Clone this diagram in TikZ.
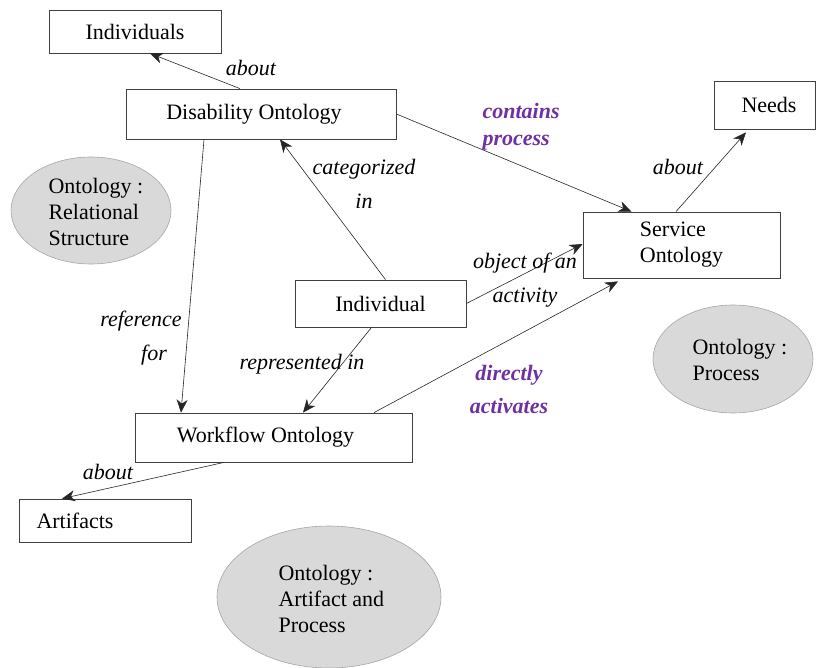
\documentclass[tikz,border=0pt]{standalone}
\usepackage{fontspec}
\setmainfont{Liberation Serif}
\usetikzlibrary{arrows.meta,shapes.geometric}
\definecolor{purp}{HTML}{7030A0}
\definecolor{ellfill}{HTML}{D9D9D9}
\definecolor{ellline}{HTML}{A6A6A6}
\begin{document}
\begin{tikzpicture}[x=1pt,y=-1pt,
  font=\fontsize{22}{26}\selectfont,
  box/.style={draw=black!75,line width=0.8pt,inner sep=0pt,rectangle},
  ell/.style={draw=ellline,fill=ellfill,line width=0.6pt,ellipse,inner sep=0pt},
  conn/.style={draw=black!85,line width=0.6pt,-{Stealth[length=13pt,width=11pt,inset=4pt]}},
  lab/.style={font=\fontsize{22}{34}\selectfont\itshape,align=center},
  plab/.style={font=\fontsize{22}{27}\selectfont\bfseries\itshape,text=purp,align=left}]
\useasboundingbox (0,0) rectangle (816,668);
% ellipses
\node[ell,minimum width=160pt,minimum height=107pt] (e1) at (91,210.5) {};
\node[align=left,anchor=west] (t1) at (45,212) {Ontology :\\Relational\\Structure};
\node[ell,minimum width=160pt,minimum height=108pt] (e2) at (733,359) {};
\node[align=left,anchor=west] (t2) at (689,360) {Ontology :\\Process};
\node[ell,minimum width=224pt,minimum height=142pt] (e3) at (329,597) {};
\node[align=left,anchor=west] (t3) at (275,599) {Ontology :\\Artifact and\\Process};
% boxes
\node[box,minimum width=172pt,minimum height=43pt] (indvs) at (135,31.5) {Individuals};
\node[box,minimum width=270pt,minimum height=50pt] (dis) at (261,114) {\hspace*{-14pt}Disability Ontology};
\node[box,minimum width=101pt,minimum height=48pt] (needs) at (765,105) {\hspace*{8pt}Needs};
\node[box,minimum width=197pt,minimum height=66pt,align=left] (svc) at (681.5,245) {Service\\Ontology};
\node[box,minimum width=171pt,minimum height=47pt] (indiv) at (380.5,303.5) {Individual};
\node[box,minimum width=277pt,minimum height=49pt] (wf) at (273.5,437.5) {\hspace*{-16pt}Workflow Ontology};
\node[box,minimum width=172pt,minimum height=43pt] (art) at (105,520.5) {\hspace*{-60pt}Artifacts};
% connectors
\draw[conn] ([xshift=-21pt]dis.north) -- ([xshift=15pt]indvs.south);
\node[lab] (l1) at (251,68) {about};
\draw[conn] (dis.east) -- ([xshift=-50pt]svc.north);
\node[plab,anchor=west] (l2) at (479,127) {contains\\process};
\draw[conn] ([xshift=5pt]indiv.north) -- ([xshift=19pt]dis.south);
\node[lab] (l3) at (364,184) {categorized\\in};
\draw[conn] ([xshift=-57pt]dis.south) -- ([xshift=-92.5pt]wf.north);
\node[lab] (l4) at (141,338) {reference\\\hspace*{26pt}for};
\draw[conn] ([xshift=-9pt]indiv.south) -- ([xshift=29.5pt]wf.north);
\node[lab] (l5) at (302,364) {represented in};
\draw[conn] (indiv.east) -- ([yshift=1pt]svc.west);
\node[lab] (l6) at (525,280) {object of an\\activity};
\draw[conn] ([xshift=100.5pt]wf.north) -- ([xshift=-63.5pt,yshift=-3pt]svc.south);
\node[plab,align=center] (l7) at (509,389) {directly\\[6pt]activates};
\draw[conn] ([xshift=-5.5pt]svc.north) -- ([xshift=-19pt,yshift=-3pt]needs.south);
\node[lab] (l8) at (678,167) {about};
\draw[conn] ([xshift=-49.5pt]wf.south) -- ([xshift=-43pt]art.north);
\node[lab] (l9) at (108,472) {about};
\end{tikzpicture}
\end{document}
